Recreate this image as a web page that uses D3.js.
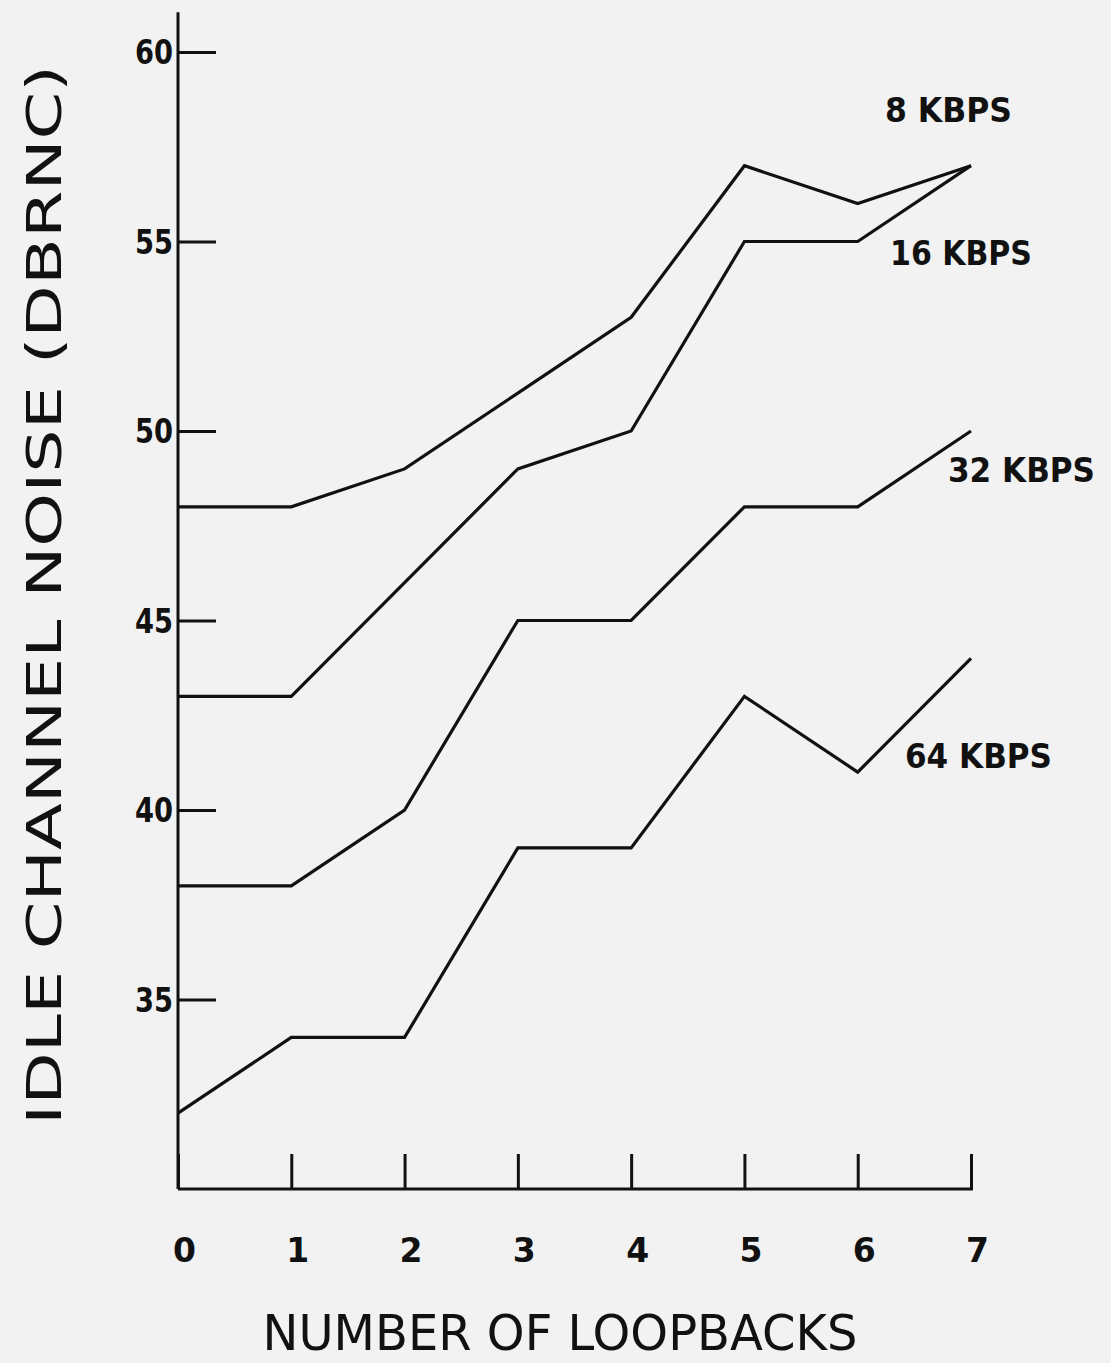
<!DOCTYPE html>
<html>
<head>
<meta charset="utf-8">
<script src="https://cdn.jsdelivr.net/npm/d3@7"></script>
<style>
  html, body { margin: 0; padding: 0; background: #f2f2f2; }
  svg { display: block; }
  text { font-family: "DejaVu Sans", "Liberation Sans", sans-serif; fill: #111; }
</style>
</head>
<body>
<script>
// ---- data ----
const loopbacks = [0, 1, 2, 3, 4, 5, 6, 7];
const yTicks = [35, 40, 45, 50, 55, 60];
const seriesNames = ["8 KBPS", "16 KBPS", "32 KBPS", "64 KBPS"];
const kbps8  = [48, 48, 49, 51, 53, 57, 56, 57];
const kbps16 = [43, 43, 46, 49, 50, 55, 55, 57];
const kbps32 = [38, 38, 40, 45, 45, 48, 48, 50];
const kbps64 = [32, 34, 34, 39, 39, 43, 41, 44];
const seriesValues = [kbps8, kbps16, kbps32, kbps64];
const xTitle = "NUMBER OF LOOPBACKS";
const yTitle = "IDLE CHANNEL NOISE (DBRNC)";

// ---- layout ----
const W = 1111, H = 1363;
const svg = d3.select("body").append("svg").attr("width", W).attr("height", H);
svg.append("rect").attr("width", W).attr("height", H).attr("fill", "#f2f2f2");

const x = d3.scaleLinear().domain([0, 7]).range([178, 971]);
const y = d3.scaleLinear().domain([30, 60]).range([1189, 52]);

const ink = "#111";

// y axis
const yAxis = d3.axisLeft(y).tickValues(yTicks).tickSizeInner(-38).tickSizeOuter(0).tickPadding(5)
  .tickFormat(d3.format("d"));
const gy = svg.append("g").attr("transform", `translate(${x(0)},0)`).call(yAxis);
gy.select(".domain").attr("d", `M0,${y(30)}V${y(61.05)}`);
gy.selectAll("path, line").attr("stroke", ink).attr("stroke-width", 3);
gy.selectAll("text").attr("font-size", 33).attr("font-weight", "bold").attr("fill", ink).attr("dy", "0.36em")
  .attr("textLength", 38).attr("lengthAdjust", "spacingAndGlyphs");

// x axis
const xAxis = d3.axisBottom(x).tickValues(loopbacks).tickSizeInner(-35).tickSizeOuter(0).tickPadding(0)
  .tickFormat(d3.format("d"));
const gx = svg.append("g").attr("transform", `translate(0,${y(30)})`).call(xAxis);
gx.select(".domain").attr("d", `M${x(0)},0H${x(7) + 2}`);
gx.selectAll("path, line").attr("stroke", ink).attr("stroke-width", 3);
gx.selectAll(".tick text").attr("font-size", 33).attr("font-weight", "bold").attr("fill", ink)
  .attr("dy", null).attr("y", 73).attr("x", 6);

// lines
const line = d3.line().x((d, i) => x(loopbacks[i])).y(d => y(d));
svg.append("g").selectAll("path").data(seriesValues).join("path")
  .attr("d", line).attr("fill", "none").attr("stroke", ink)
  .attr("stroke-width", 3.2).attr("stroke-linejoin", "miter");

// series labels
const labelPos = [
  { x: 885, y: 122, w: 127 },
  { x: 890, y: 265, w: 142 },
  { x: 948, y: 482, w: 147 },
  { x: 905, y: 768, w: 147 }
];
svg.append("g").selectAll("text").data(seriesNames).join("text")
  .attr("x", (d, i) => labelPos[i].x).attr("y", (d, i) => labelPos[i].y)
  .attr("font-size", 33).attr("font-weight", "bold").attr("textLength", (d, i) => labelPos[i].w)
  .attr("lengthAdjust", "spacingAndGlyphs").text(d => d);

// axis titles
svg.append("text").attr("x", 560).attr("y", 1350).attr("text-anchor", "middle")
  .attr("font-size", 50).attr("textLength", 595).attr("lengthAdjust", "spacingAndGlyphs")
  .text(xTitle);

svg.append("text").attr("transform", "translate(61,595) rotate(-90)")
  .attr("text-anchor", "middle").attr("font-size", 48)
  .attr("textLength", 1060).attr("lengthAdjust", "spacingAndGlyphs")
  .text(yTitle);
</script>
</body>
</html>
